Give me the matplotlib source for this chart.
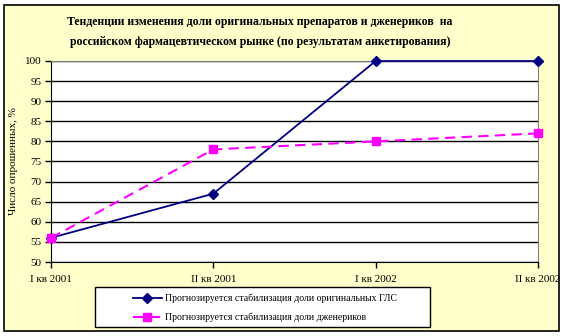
import matplotlib.pyplot as plt
from matplotlib.patches import Rectangle

quarters = ["I кв 2001", "II кв 2001", "I кв 2002", "II кв 2002"]
originals = [56, 67, 100, 100]
generics = [56, 78, 80, 82]
yticks = list(range(50, 101, 5))

plt.rcParams['font.family'] = ['Liberation Serif', 'DejaVu Serif']

W, H = 564, 336
fig = plt.figure(figsize=(W / 100, H / 100), dpi=100)
fig.patch.set_facecolor('white')
fig.patches.append(Rectangle((4 / W, 5 / H), 555 / W, 326 / H, transform=fig.transFigure,
                             facecolor='#FFFFCC', edgecolor='black', lw=1.2, zorder=-10))
# legend box
fig.patches.append(Rectangle((95 / W, 1 - 327 / H), 335 / W, 40 / H, transform=fig.transFigure,
                             facecolor='white', edgecolor='black', lw=1, zorder=-5))

ax = fig.add_axes([51 / W, 1 - 262 / H, 487 / W, 201 / H])
ax.set_facecolor('white')
x = range(len(quarters))
ax.plot(x, originals, color='#000080', lw=1.3, marker='D', ms=5, clip_on=False,
        label='Прогнозируется стабилизация доли оригинальных ГЛС', zorder=3)
ax.plot(x, generics, color='#FF00FF', lw=1.5, ls=(0, (5, 3)), marker='s', ms=6, clip_on=False,
        label='Прогнозируется стабилизация доли дженериков', zorder=3)

ax.set_xlim(0, 3)
ax.set_ylim(50, 100)
ax.set_yticks(yticks)
ax.set_xticks(list(x))
ax.set_xticklabels(quarters)
ax.tick_params(labelsize=8, length=4, width=1, direction='out', colors='black', pad=3)
ax.tick_params(axis='x', pad=5)
ax.yaxis.grid(True, color='black', lw=1)
ax.set_axisbelow(True)
for s in ['top', 'right']:
    ax.spines[s].set_color('#808080')
for s in ['left', 'bottom']:
    ax.spines[s].set_color('black')
ax.set_ylabel('Число опрошенных, %', fontsize=8)
ax.yaxis.set_label_coords((18 - 51) / 487, 0.5)

fig.text(260 / W, 1 - 22 / H, 'Тенденции изменения доли оригинальных препаратов и дженериков  на',
         ha='center', va='center', fontsize=8.5, fontweight='bold')
fig.text(260 / W, 1 - 42 / H, 'российском фармацевтическом рынке (по результатам анкетирования)',
         ha='center', va='center', fontsize=8.5, fontweight='bold')

leg = fig.legend(loc='center left', bbox_to_anchor=(128 / W, 1 - 308 / H),
                 fontsize=7, frameon=False, handlelength=3, handletextpad=0.3,
                 labelspacing=1.0, borderpad=0)

plt.savefig('out.png', dpi=100, facecolor=fig.get_facecolor())
plt.close(fig)
